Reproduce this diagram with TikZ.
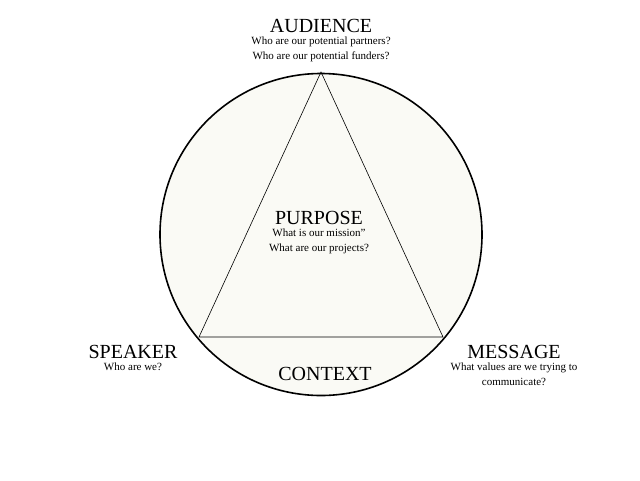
\documentclass[tikz,border=0pt]{standalone}
\usepackage{fontspec}
\setmainfont{Liberation Serif}
\usetikzlibrary{positioning}
\definecolor{paleback}{HTML}{FAFAF5}
\tikzset{
    heading/.style={font=\fontsize{20}{22}\selectfont, inner sep=0pt},
    question/.style={font=\fontsize{11}{15}\selectfont, align=center, inner sep=0pt}
}
\begin{document}
\begin{tikzpicture}[x=1pt,y=-1pt]
    \useasboundingbox (0,0) rectangle (640,480);
    \node[circle, draw, line width=1.6pt, fill=paleback, minimum size=322pt] (circ) at (321,234.5) {};

    \coordinate (top) at (321,72);
    \coordinate (left) at (199,337);
    \coordinate (right) at (443,337);
    \draw[line width=0.6pt] (top) -- (left) -- (right) -- cycle;

    \node[heading] (Audience) at (321,26) {AUDIENCE};
    \node[question, below=4pt of Audience] (AudienceQ)
        {Who are our potential partners?\\Who are our potential funders?};

    \node[heading] (Purpose) at (319,218) {PURPOSE};
    \node[question, below=4pt of Purpose] (PurposeQ)
        {What is our mission''\\What are our projects?};

    \node[heading] (Speaker) at (133,352) {SPEAKER};
    \node[question, below=4pt of Speaker] (SpeakerQ) {Who are we?};

    \node[heading] (Message) at (514,352) {MESSAGE};
    \node[question, below=4pt of Message] (MessageQ)
        {What values are we trying to\\communicate?};

    \node[heading] (Context) at (325,374) {CONTEXT};
\end{tikzpicture}
\end{document}
